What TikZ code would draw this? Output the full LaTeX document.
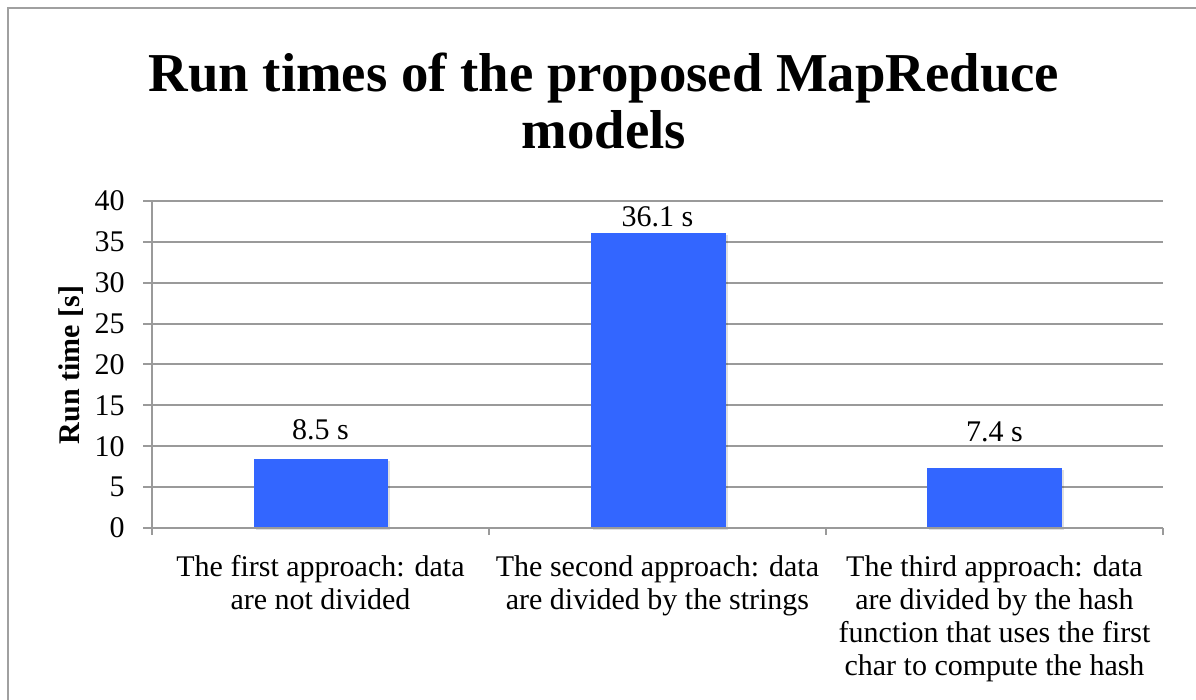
\documentclass[tikz,border=0pt]{standalone}
\usepackage{fontspec}
\setmainfont{Liberation Serif}
\usepackage{tikz}
\definecolor{barblue}{HTML}{3366FF}
\definecolor{gridgray}{HTML}{9A9A9A}
\definecolor{framegray}{HTML}{A0A0A0}
\begin{document}
\begin{tikzpicture}[x=0.5pt,y=-0.5pt,font=\fontsize{15}{16.5}\selectfont]
	\useasboundingbox (0,0) rectangle (1196,700);
	%FRAME
	\draw[framegray,line width=1.2pt] (8,700)--(8,8)--(1196,8);
	
	%TITLE
	\node[anchor=north,inner sep=0,align=center,font=\fontsize{27.4}{28.5}\selectfont\bfseries] (title) at (604,53) {Run times of the proposed MapReduce\\models};
	
	%Y LABEL
	\node[rotate=90,inner sep=0,font=\fontsize{15}{16.5}\selectfont\bfseries] (ylabel) at (71,365) {Run time [s]};
	
	\begin{scope}[shift={(152,528)},y=4.0875pt]
	%GRID LINES
	\draw[gridgray,line width=1pt] (-9,40)--(1011,40);
	\draw[gridgray,line width=1pt] (-9,35)--(1011,35);
	\draw[gridgray,line width=1pt] (-9,30)--(1011,30);
	\draw[gridgray,line width=1pt] (-9,25)--(1011,25);
	\draw[gridgray,line width=1pt] (-9,20)--(1011,20);
	\draw[gridgray,line width=1pt] (-9,15)--(1011,15);
	\draw[gridgray,line width=1pt] (-9,10)--(1011,10);
	\draw[gridgray,line width=1pt] (-9,5)--(1011,5);
	
	%TICK LABELS
	\node[anchor=east,inner sep=0] (y40) at (-27,40) {40};
	\node[anchor=east,inner sep=0] (y35) at (-27,35) {35};
	\node[anchor=east,inner sep=0] (y30) at (-27,30) {30};
	\node[anchor=east,inner sep=0] (y25) at (-27,25) {25};
	\node[anchor=east,inner sep=0] (y20) at (-27,20) {20};
	\node[anchor=east,inner sep=0] (y15) at (-27,15) {15};
	\node[anchor=east,inner sep=0] (y10) at (-27,10) {10};
	\node[anchor=east,inner sep=0] (y5) at (-27,5) {5};
	\node[anchor=east,inner sep=0] (y0) at (-27,0) {0};
	
	%BAR SHADOWS
	\fill[black,opacity=0.12] (104,-0.25) rectangle (238,8.25);
	\fill[black,opacity=0.12] (441,-0.25) rectangle (576,35.85);
	\fill[black,opacity=0.12] (777,-0.25) rectangle (912,7.15);
	
	%BARS
	\fill[barblue] (102,0) rectangle (236,8.5);
	\fill[barblue] (439,0) rectangle (574,36.1);
	\fill[barblue] (775,0) rectangle (910,7.4);
	
	%AXES
	\draw[gridgray,line width=1pt] (0,40)--(0,0)--(1011,0);
	\draw[gridgray,line width=1pt] (-9,0)--(0,0);
	\draw[gridgray,line width=1pt] (0,0)--([yshift=-3.5pt]0,0);
	\draw[gridgray,line width=1pt] (337,0)--([yshift=-3.5pt]337,0);
	\draw[gridgray,line width=1pt] (674,0)--([yshift=-3.5pt]674,0);
	\draw[gridgray,line width=1pt] (1011,0)--([yshift=-3.5pt]1011,0);
	\end{scope}
	
	%VALUE LABELS
	\node[anchor=base,inner sep=0] (val1) at (320.5,440) {8.5 s};
	\node[anchor=base,inner sep=0] (val2) at (657.5,227) {36.1 s};
	\node[anchor=base,inner sep=0] (val3) at (994.5,442) {7.4 s};
	
	%CATEGORY LABELS
	\node[anchor=north,inner sep=0,align=center] (cat1) at (320.5,555) {The first approach: data\\are not divided};
	\node[anchor=north,inner sep=0,align=center] (cat2) at (657.5,555) {The second approach: data\\are divided by the strings};
	\node[anchor=north,inner sep=0,align=center] (cat3) at (994.5,555) {The third approach: data\\are divided by the hash\\function that uses the first\\char to compute the hash};
\end{tikzpicture}
\end{document}
